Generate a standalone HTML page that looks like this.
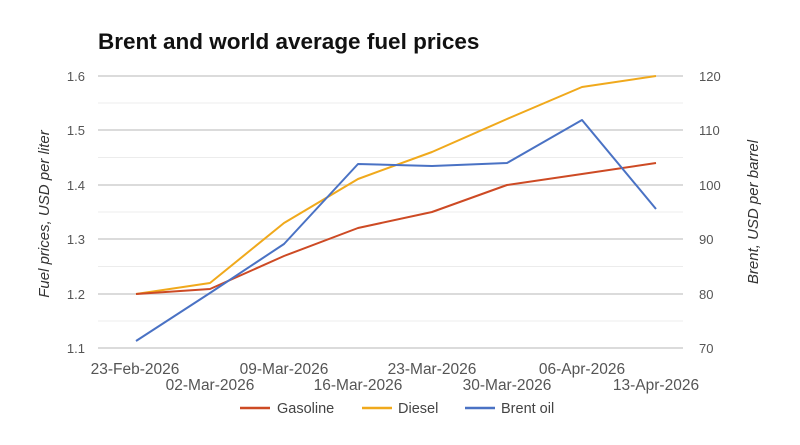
<!DOCTYPE html>
<html><head><meta charset="utf-8"><style>
body{margin:0;background:#fff;}
svg{display:block;font-family:"Liberation Sans",Arial,sans-serif;}
</style></head><body>
<svg width="800" height="445" viewBox="0 0 800 445">
<rect width="800" height="445" fill="#fff"/>
<text x="98" y="49" font-size="22.5" font-weight="bold" fill="#111">Brent and world average fuel prices</text>
<g stroke="#ececec" stroke-width="1">
<line x1="98" x2="683" y1="103" y2="103"/><line x1="98" x2="683" y1="157.5" y2="157.5"/>
<line x1="98" x2="683" y1="212" y2="212"/><line x1="98" x2="683" y1="266.5" y2="266.5"/>
<line x1="98" x2="683" y1="321" y2="321"/>
</g>
<g stroke="#cfcfcf" stroke-width="1.5">
<line x1="98" x2="683" y1="76" y2="76"/><line x1="98" x2="683" y1="130" y2="130"/>
<line x1="98" x2="683" y1="185" y2="185"/><line x1="98" x2="683" y1="239" y2="239"/>
<line x1="98" x2="683" y1="294" y2="294"/><line x1="98" x2="683" y1="348" y2="348"/>
</g>
<g font-size="13" fill="#555" text-anchor="end">
<text x="85" y="81">1.6</text><text x="85" y="135">1.5</text><text x="85" y="190">1.4</text>
<text x="85" y="244">1.3</text><text x="85" y="299">1.2</text><text x="85" y="353">1.1</text>
</g>
<g font-size="13" fill="#555" text-anchor="start">
<text x="699" y="81">120</text><text x="699" y="135">110</text><text x="699" y="190">100</text>
<text x="699" y="244">90</text><text x="699" y="299">80</text><text x="699" y="353">70</text>
</g>
<text transform="translate(49,214) rotate(-90)" font-size="15" font-style="italic" fill="#333" text-anchor="middle">Fuel prices, USD per liter</text>
<text transform="translate(758,212) rotate(-90)" font-size="15" font-style="italic" fill="#333" text-anchor="middle">Brent, USD per barrel</text>
<g font-size="15.5" fill="#555" text-anchor="middle">
<text x="135" y="374">23-Feb-2026</text><text x="284" y="374">09-Mar-2026</text>
<text x="432" y="374">23-Mar-2026</text><text x="582" y="374">06-Apr-2026</text>
<text x="210" y="390">02-Mar-2026</text><text x="358" y="390">16-Mar-2026</text>
<text x="507" y="390">30-Mar-2026</text><text x="656" y="390">13-Apr-2026</text>
</g>
<g fill="none" stroke-width="2" stroke-linejoin="round">
<polyline stroke="#f0a91c" points="136,294 210,283 284,223 358,179 432,152 507,119 582,87 656,76"/>
<polyline stroke="#cd4a24" points="136,294 210,289 284,256 358,228 432,212 507,185 582,174 656,163"/>
<polyline stroke="#4a72c4" points="136,341 210,293 284,244 358,164 432,166 507,163 582,120 656,209"/>
</g>
<g stroke-width="2.5">
<line x1="240" x2="270" y1="408" y2="408" stroke="#cd4a24"/>
<line x1="362" x2="392" y1="408" y2="408" stroke="#f0a91c"/>
<line x1="465" x2="495" y1="408" y2="408" stroke="#4a72c4"/>
</g>
<g font-size="14.5" fill="#444">
<text x="277" y="413">Gasoline</text><text x="398" y="413">Diesel</text><text x="501" y="413">Brent oil</text>
</g>
</svg>
</body></html>
